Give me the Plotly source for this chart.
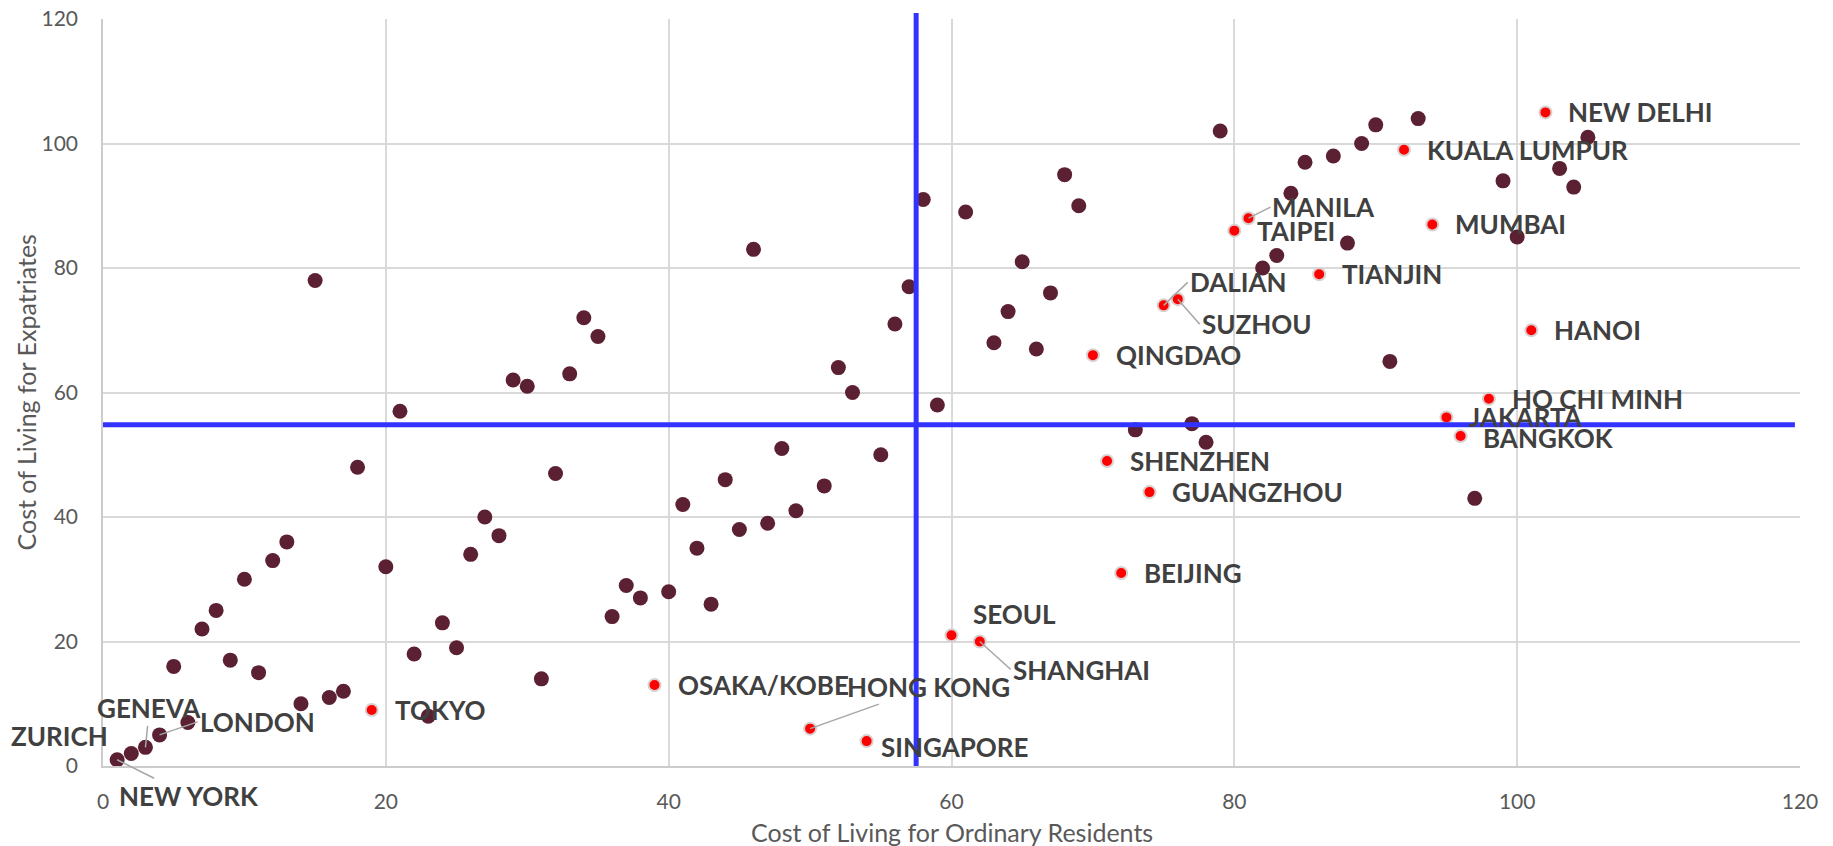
import plotly.graph_objects as go

# ---------------- data ----------------
asia_cities = ["NEW DELHI", "KUALA LUMPUR", "MANILA", "TAIPEI", "MUMBAI", "TIANJIN",
               "DALIAN", "SUZHOU", "QINGDAO", "HANOI", "HO CHI MINH", "JAKARTA",
               "BANGKOK", "SHENZHEN", "GUANGZHOU", "BEIJING", "SEOUL", "SHANGHAI",
               "OSAKA/KOBE", "HONG KONG", "SINGAPORE", "TOKYO"]
asia_ordinary = [102, 92, 81, 80, 94, 86, 75, 76, 70, 101, 98, 95, 96, 71, 74, 72, 60, 62, 39, 50, 54, 19]
asia_expat = [105, 99, 88, 86, 87, 79, 74, 75, 66, 70, 59, 56, 53, 49, 44, 31, 21, 20, 13, 6, 4, 9]

other_cities = ["NEW YORK", "ZURICH", "GENEVA", "LONDON"] + [""] * 79
other_ordinary = [1, 2, 3, 4, 6, 5, 7, 8, 9, 10, 11, 12, 13, 14, 15, 16, 17, 18, 20, 21, 22, 23, 24, 25,
                  26, 27, 28, 29, 30, 31, 32, 33, 34, 35, 36, 37, 38, 40, 41, 42, 43, 44, 45, 46, 47,
                  48, 49, 51, 52, 53, 55, 56, 57, 58, 59, 61, 63, 64, 65, 66, 67, 68, 69, 73, 77, 78,
                  79, 82, 83, 84, 85, 87, 88, 89, 90, 91, 93, 97, 99, 100, 103, 104, 105]
other_expat = [1, 2, 3, 5, 7, 16, 22, 25, 17, 30, 15, 33, 36, 10, 78, 11, 12, 48, 32, 57, 18, 8, 23, 19,
               34, 40, 37, 62, 61, 14, 47, 63, 72, 69, 24, 29, 27, 28, 42, 35, 26, 46, 38, 83, 39,
               51, 41, 45, 64, 60, 50, 71, 77, 91, 58, 89, 68, 73, 81, 67, 76, 95, 90, 54, 55, 52,
               102, 80, 82, 92, 97, 98, 84, 100, 103, 65, 104, 43, 94, 85, 96, 93, 101]

ordinary_threshold = 57.5
expat_threshold = 54.8

x_ticks = [0, 20, 40, 60, 80, 100, 120]
y_ticks = [0, 20, 40, 60, 80, 100, 120]

x_title = "Cost of Living for Ordinary Residents"
y_title = "Cost of Living for Expatriates"

# ---------------- styles ----------------
FONT = "Lato"
LABEL_COLOR = "#404040"
AXIS_TEXT = "#595959"
LEADER = "#a6a6a6"
label_font = dict(family=FONT, size=26, color=LABEL_COLOR, weight="bold")
title_font = dict(family=FONT, size=25, color=AXIS_TEXT)

# label placement (pixels): plain labels -> (xanchor, xshift, yshift)
plain = {
    "NEW DELHI": ("left", 21, 0), "KUALA LUMPUR": ("left", 21, 0), "TAIPEI": ("left", 21, 0),
    "MUMBAI": ("left", 21, 0), "TIANJIN": ("left", 21, 0), "QINGDAO": ("left", 21, 0),
    "HANOI": ("left", 21, 0), "HO CHI MINH": ("left", 21, 0), "JAKARTA": ("left", 21, 0),
    "BANGKOK": ("left", 20, -2), "SHENZHEN": ("left", 21, 0), "GUANGZHOU": ("left", 21, 0),
    "BEIJING": ("left", 21, 0), "SEOUL": ("left", 19, 21), "OSAKA/KOBE": ("left", 21, 0),
    "SINGAPORE": ("left", 12, -6), "TOKYO": ("left", 21, 0), "ZURICH": ("right", -21, 18),
}
# leader-line labels -> (xanchor, ax, ay)
leader = {
    "MANILA": ("left", 22, -11), "DALIAN": ("left", 24, -23), "SUZHOU": ("left", 22, 25),
    "SHANGHAI": ("left", 31, 28), "LONDON": ("left", 38, -13),
    "HONG KONG": ("center", 118, -42), "NEW YORK": ("center", 72, 36), "GENEVA": ("center", 4, -39),
}

fig = go.Figure()

fig.add_trace(go.Scatter(
    x=other_ordinary, y=other_expat, mode="markers", text=other_cities,
    marker=dict(size=15, color="#5C2033", line=dict(width=0)), showlegend=False,
    hoverinfo="text+x+y"))
fig.add_trace(go.Scatter(
    x=asia_ordinary, y=asia_expat, mode="markers", text=asia_cities,
    marker=dict(size=12, color="#FF0000", line=dict(width=2, color="#d9cfcf")), showlegend=False,
    hoverinfo="text+x+y"))

annotations = []
all_pts = list(zip(asia_cities, asia_ordinary, asia_expat)) + list(zip(other_cities, other_ordinary, other_expat))
for name, xv, yv in all_pts:
    if not name:
        continue
    if name in plain:
        xa, xs, ys = plain[name]
        annotations.append(dict(x=xv, y=yv, xref="x", yref="y", text=name, showarrow=False,
                                xanchor=xa, yanchor="middle", xshift=xs, yshift=ys, font=label_font))
    elif name in leader:
        xa, ax, ay = leader[name]
        annotations.append(dict(x=xv, y=yv, xref="x", yref="y", text=name, showarrow=True,
                                arrowhead=0, arrowwidth=1.5, arrowcolor=LEADER, ax=ax, ay=ay,
                                xanchor=xa, yanchor="middle", standoff=0, font=label_font))

# axis titles
annotations.append(dict(x=0.5, y=0, xref="paper", yref="paper", text=x_title, showarrow=False,
                        xanchor="center", yanchor="middle", yshift=-66, font=title_font))
annotations.append(dict(x=0, y=0.5, xref="paper", yref="paper", text=y_title, showarrow=False,
                        textangle=-90, xanchor="center", yanchor="middle", xshift=-78, font=title_font))

shapes = [
    dict(type="line", xref="x", yref="y domain", x0=ordinary_threshold, x1=ordinary_threshold,
         y0=0, y1=1.008, line=dict(color="#3333FF", width=5), layer="above"),
    dict(type="line", xref="x domain", yref="y", x0=0, x1=0.997, y0=expat_threshold, y1=expat_threshold,
         line=dict(color="#3333FF", width=5), layer="above"),
]

axis_common = dict(
    showgrid=True, gridcolor="#d9d9d9", gridwidth=1.5, zeroline=False,
    showline=True, linecolor="#cccccc", linewidth=1.5,
    tickfont=dict(family=FONT, size=21, color=AXIS_TEXT),
    ticks="", automargin=False, ticklabeloverflow="allow",
)

# page body has an 8px default margin, so the figure is offset to compensate
fig.update_layout(
    width=1825, height=838,
    margin=dict(l=95, r=33, t=11, b=80),
    paper_bgcolor="white", plot_bgcolor="white",
    xaxis=dict(range=[0, 120], tickvals=x_ticks, ticktext=[str(v) for v in x_ticks],
               ticklabelstandoff=16, **axis_common),
    yaxis=dict(range=[0, 120], tickvals=y_ticks, ticktext=[str(v) for v in y_ticks],
               ticklabelstandoff=19, **axis_common),
    annotations=annotations,
    shapes=shapes,
    hovermode="closest",
)

fig.write_html("out.html")
